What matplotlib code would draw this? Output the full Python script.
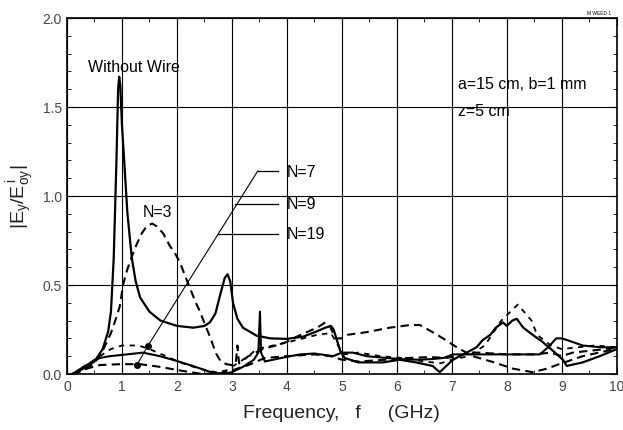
import matplotlib
matplotlib.use("Agg")
import matplotlib.pyplot as plt
from matplotlib.ticker import MultipleLocator

plt.rcParams['font.family'] = ['Liberation Sans', 'DejaVu Sans']
plt.rcParams['mathtext.fontset'] = 'custom'
plt.rcParams['mathtext.rm'] = 'Liberation Sans'

# Without wire (solid)
ww_f = [0.1, 0.3, 0.5, 0.65, 0.75, 0.8, 0.85, 0.9, 0.93, 0.95, 0.97, 1.0, 1.05, 1.1, 1.18,
        1.25, 1.33, 1.5, 1.7, 2.0, 2.3, 2.5, 2.6, 2.7, 2.8, 2.87, 2.92, 2.97, 3.02, 3.1,
        3.2, 3.45, 3.7, 4.0, 4.3, 4.55, 4.7, 4.8, 4.85, 4.92, 4.97, 5.05, 5.3, 5.75, 6.05,
        6.35, 6.65, 6.78, 6.9, 7.02, 7.27, 7.45, 7.56, 7.7, 7.8, 7.93, 8.0, 8.1, 8.18, 8.3,
        8.47, 8.65, 8.84, 9.02, 9.09, 9.38, 9.69, 10.0]
ww_v = [0.0, 0.03, 0.07, 0.14, 0.24, 0.35, 0.65, 1.2, 1.6, 1.67, 1.62, 1.4, 1.15, 0.9, 0.65,
        0.52, 0.43, 0.35, 0.3, 0.27, 0.26, 0.27, 0.29, 0.34, 0.46, 0.54, 0.56, 0.52, 0.4, 0.31,
        0.26, 0.215, 0.2, 0.197, 0.21, 0.24, 0.26, 0.27, 0.25, 0.18, 0.13, 0.09, 0.065, 0.065, 0.08,
        0.065, 0.045, 0.01, 0.045, 0.08, 0.12, 0.15, 0.19, 0.22, 0.26, 0.29, 0.27, 0.3, 0.31, 0.26,
        0.22, 0.18, 0.13, 0.08, 0.045, 0.065, 0.1, 0.14]

# N=3 (dashed)
n3_f = [0.1, 0.3, 0.5, 0.65, 0.8, 0.9, 0.96, 1.02, 1.09, 1.18, 1.27, 1.36, 1.45, 1.55, 1.63,
        1.75, 1.87, 1.96, 2.05, 2.15, 2.24, 2.33, 2.42, 2.52, 2.6, 2.67, 2.72, 2.8, 2.9, 3.0,
        3.07, 3.1, 3.13, 3.3, 3.56, 3.8, 4.0, 4.18, 4.4, 4.55, 4.7, 4.78, 4.88, 5.0, 5.1,
        5.45, 5.87, 6.24, 6.42, 6.65, 6.84, 7.09, 7.38, 7.75, 8.11, 8.47, 8.73, 8.96, 9.38,
        9.82, 10.0]
n3_v = [0.0, 0.02, 0.06, 0.13, 0.23, 0.32, 0.38, 0.5, 0.58, 0.66, 0.73, 0.79, 0.83, 0.845, 0.83,
        0.79, 0.72, 0.68, 0.63, 0.55, 0.48, 0.41, 0.35, 0.27, 0.21, 0.15, 0.11, 0.07, 0.055, 0.05,
        0.06, 0.16, 0.06, 0.1, 0.14, 0.16, 0.18, 0.21, 0.24, 0.26, 0.29, 0.27, 0.2, 0.2, 0.22,
        0.235, 0.26, 0.275, 0.275, 0.235, 0.2, 0.15, 0.1, 0.067, 0.03, 0.01, 0.03, 0.056, 0.1,
        0.13, 0.145]

# N=7 (solid)
n7_f = [0.1, 0.3, 0.47, 0.6, 0.78, 1.09, 1.38, 1.69, 2.0, 2.29, 2.6, 2.84, 3.0, 3.2, 3.4,
        3.48, 3.51, 3.53, 3.6, 3.9, 4.24, 4.5, 4.84, 5.0, 5.2, 5.45, 5.8, 6.05, 6.4, 6.65,
        6.85, 7.02, 7.5, 8.0, 8.6, 8.75, 8.9, 9.0, 9.1, 9.38, 9.7, 10.0]
n7_v = [0.0, 0.04, 0.07, 0.09, 0.1, 0.11, 0.12, 0.1, 0.073, 0.045, 0.012, 0.0, 0.01, 0.04, 0.08,
        0.12, 0.35, 0.12, 0.07, 0.09, 0.11, 0.115, 0.1, 0.12, 0.12, 0.1, 0.09, 0.084, 0.08, 0.084,
        0.09, 0.11, 0.11, 0.11, 0.11, 0.15, 0.2, 0.2, 0.19, 0.16, 0.15, 0.15]

# N=9 (dashed)
n9_f = [0.1, 0.36, 0.6, 0.96, 1.33, 1.69, 2.05, 2.42, 2.72, 3.0, 3.3, 3.6, 4.0, 4.5, 4.8,
        5.0, 5.3, 5.8, 6.2, 6.6, 6.9, 7.1, 7.3, 7.5, 8.0, 8.5, 8.8, 9.0, 9.2, 9.5, 9.8, 10.0]
n9_v = [0.0, 0.03, 0.05, 0.055, 0.055, 0.04, 0.02, 0.002, 0.0, 0.02, 0.05, 0.09, 0.1, 0.11, 0.1,
        0.08, 0.07, 0.08, 0.09, 0.095, 0.09, 0.1, 0.12, 0.12, 0.11, 0.11, 0.12, 0.1, 0.12, 0.13,
        0.14, 0.15]

# N=19 (dashed)
n19_f = [0.1, 0.3, 0.6, 0.8, 1.0, 1.3, 1.5, 1.8, 2.1, 2.4, 2.7, 2.9, 3.1, 3.3, 3.45, 3.6,
         3.9, 4.3, 4.55, 4.8, 4.95, 5.05, 5.3, 5.7, 6.1, 6.5, 6.8, 7.0, 7.3, 7.6, 7.9, 8.2,
         8.45, 8.55, 8.8, 9.0, 9.3, 9.6, 10.0]
n19_v = [0.0, 0.04, 0.1, 0.14, 0.16, 0.16, 0.14, 0.1, 0.06, 0.03, 0.01, 0.02, 0.06, 0.1, 0.14, 0.15,
         0.17, 0.2, 0.22, 0.23, 0.15, 0.11, 0.12, 0.1, 0.09, 0.07, 0.06, 0.08, 0.1, 0.16, 0.3, 0.39,
         0.3, 0.22, 0.16, 0.14, 0.15, 0.16, 0.15]

# leader lines for the N labels
lead_f = [3.47, 1.47, 1.27]
lead_v = [1.14, 0.157, 0.05]
label_names = ['N=7', 'N=9', 'N=19']
label_y = [1.14, 0.955, 0.787]
label_start = [3.47, 3.06, 2.75]

fig = plt.figure(figsize=(6.23, 4.31), dpi=100)
ax = fig.add_axes([0.1075, 0.13, 0.8825, 0.826])

ax.plot(ww_f, ww_v, color='black', lw=1.6, ls='-')
ax.plot(n3_f, n3_v, color='black', lw=1.5, ls=(0, (4, 2.5)))
ax.plot(n7_f, n7_v, color='black', lw=1.5, ls='-')
ax.plot(n9_f, n9_v, color='black', lw=1.5, ls=(0, (4, 2.5)))
ax.plot(n19_f, n19_v, color='black', lw=1.3, ls=(0, (3, 3)))

# leaders
ax.plot(lead_f, lead_v, color='black', lw=0.8)
ax.plot(lead_f[1:], lead_v[1:], 'o', color='black', ms=4)
for name, y, x0 in zip(label_names, label_y, label_start):
    ax.plot([x0, 3.84], [y, y], color='black', lw=0.9)
    ax.text(4.0, y, name, fontsize=11.5, va='center', ha='left')

ax.text(0.38, 1.73, 'Without Wire', fontsize=11.5, va='center', ha='left')
ax.text(1.38, 0.915, 'N=3', fontsize=11.5, va='center', ha='left')
ax.text(7.11, 1.63, 'a=15 cm, b=1 mm', fontsize=11.5, va='center', ha='left')
ax.text(7.11, 1.48, 'z=5 cm', fontsize=11.5, va='center', ha='left')
fig.text(0.962, 0.968, 'M WEED 1', fontsize=3.5, ha='center', va='center')

ax.set_xlim(0, 10)
ax.set_ylim(0, 2.0)
ax.xaxis.set_major_locator(MultipleLocator(1))
ax.xaxis.set_minor_locator(MultipleLocator(0.5))
ax.yaxis.set_major_locator(MultipleLocator(0.5))
ax.yaxis.set_minor_locator(MultipleLocator(0.1))
ax.yaxis.set_major_formatter(plt.FormatStrFormatter('%.1f'))
ax.grid(True, which='major', color='black', lw=0.8)
ax.tick_params(which='both', direction='in', top=True, right=True,
               labelsize=10, labelcolor='#444444', color='black')
ax.tick_params(which='major', length=5)
ax.tick_params(which='minor', length=3)
for s in ax.spines.values():
    s.set_linewidth(1.2)

ax.set_xlabel('Frequency,   f     (GHz)', fontsize=14, color='#222222', labelpad=8)
ax.set_ylabel(r'$\mathrm{|E_y/E^{\,i}_{oy}|}$', fontsize=14, color='#222222', labelpad=4)

fig.savefig('out.png', dpi=100)
